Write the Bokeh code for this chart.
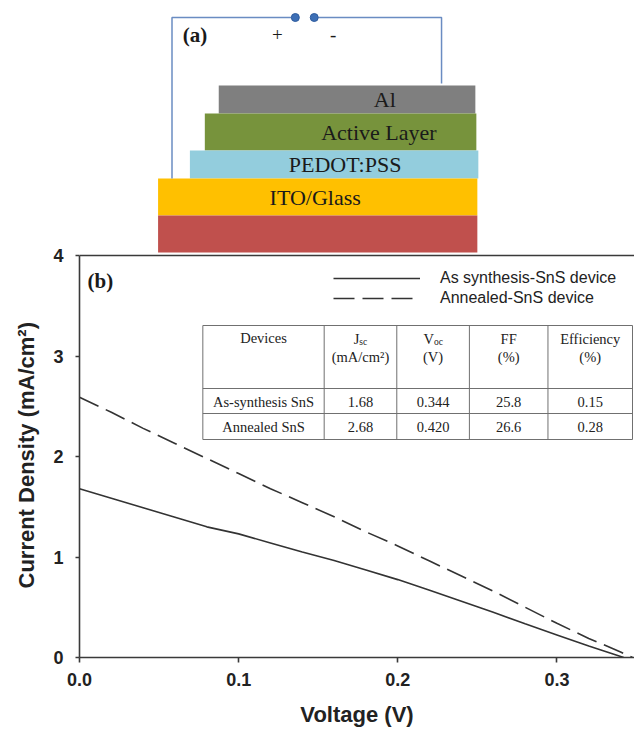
from bokeh.plotting import figure
from bokeh.models import Range1d, FixedTicker, PrintfTickFormatter, Span, Legend, LegendItem, Title
from bokeh.embed import file_html
from bokeh.resources import INLINE
from bokeh.core.properties import value

# ---------------- data ----------------
v_as = [0.00, 0.02, 0.04, 0.06, 0.08, 0.10, 0.12, 0.14, 0.16, 0.18,
        0.20, 0.22, 0.24, 0.26, 0.28, 0.30, 0.32, 0.342]
j_as = [1.68, 1.585, 1.49, 1.395, 1.30, 1.23, 1.14, 1.05, 0.965, 0.87,
        0.775, 0.67, 0.56, 0.45, 0.335, 0.225, 0.115, 0.0]

v_an = [0.00, 0.02, 0.04, 0.06, 0.08, 0.10, 0.12, 0.14, 0.16, 0.18,
        0.20, 0.22, 0.24, 0.26, 0.28, 0.30, 0.32, 0.34, 0.3475]
j_an = [2.59, 2.44, 2.28, 2.13, 1.98, 1.83, 1.68, 1.54, 1.40, 1.25,
        1.11, 0.96, 0.81, 0.66, 0.50, 0.34, 0.19, 0.055, 0.0]

series_names = ["As synthesis-SnS device", "Annealed-SnS device"]
x_ticks = [0.0, 0.1, 0.2, 0.3]
y_ticks = [0, 1, 2, 3, 4]

table_devices = ["As-synthesis SnS", "Annealed SnS"]
table_jsc = ["1.68", "2.68"]
table_voc = ["0.344", "0.420"]
table_ff = ["25.8", "26.6"]
table_eff = ["0.15", "0.28"]

layer_names = ["Al", "Active Layer", "PEDOT:PSS", "ITO/Glass", ""]
layer_colors = ["#7f7f7f", "#77933c", "#93cddd", "#ffc000", "#c0504d"]

SERIF = value("Liberation Serif")
SANS = "Liberation Sans"

# ---------------- layout constants (pixels) ----------------
W, H = 634, 730
FRAME_L = 76           # left edge of J-V frame
FRAME_B = 657          # pixel row of J = 0
PX_PER_V = 1600.0
PX_PER_J = 100.5
X_END = (W - FRAME_L) / PX_PER_V
Y_END = FRAME_B / PX_PER_J          # frame runs to the top of the canvas (schematic lives above J = 4)


def dx(px):
    return (px - FRAME_L) / PX_PER_V


def dy(py):
    return (FRAME_B - py) / PX_PER_J


p = figure(width=W, height=H, x_range=Range1d(0, X_END), y_range=Range1d(0, Y_END),
           toolbar_location=None, output_backend="svg",
           min_border_left=FRAME_L, min_border_right=0, min_border_top=0,
           min_border_bottom=H - FRAME_B)
p.outline_line_color = None
p.grid.visible = False

# ---------------- (a) device schematic ----------------
lay_left = [216, 202, 187, 155, 155]
lay_right = [474, 475, 477, 476, 476]
lay_top = [85, 113, 150, 178, 215]
lay_bottom = [113, 150, 178, 215, 252]
p.quad(left=[dx(v) for v in lay_left], right=[dx(v) for v in lay_right],
       top=[dy(v) for v in lay_top], bottom=[dy(v) for v in lay_bottom],
       fill_color=layer_colors, line_color=None)
lab_x = [383, 377, 343, 313]
lab_y = [99, 132, 164, 197]
p.text(x=[dx(v) for v in lab_x], y=[dy(v) for v in lab_y], text=layer_names[:4],
       text_font=SERIF, text_font_size="22px", text_align="center", text_baseline="middle",
       text_color="#1a1a1a")

wire = "#6a8cc2"
p.line(x=[dx(169), dx(169), dx(289)], y=[dy(178), dy(17), dy(17)], line_color=wire, line_width=1.5)
p.line(x=[dx(316), dx(440), dx(440)], y=[dy(17), dy(17), dy(83)], line_color=wire, line_width=1.5)
p.scatter(x=[dx(293), dx(312)], y=[dy(17), dy(17)], size=8, fill_color="#3d6fb6", line_color="#2f5c9e")
p.text(x=[dx(192)], y=[dy(34)], text=["(a)"], text_font=SERIF, text_font_style="bold",
       text_font_size="21px", text_align="center", text_baseline="middle", text_color="#1a1a1a")
p.text(x=[dx(275), dx(331)], y=[dy(34), dy(34)], text=["+", "-"], text_font=SERIF,
       text_font_size="19px", text_align="center", text_baseline="middle", text_color="#1a1a1a")

# ---------------- (b) J-V curves ----------------
ink = "#333333"
r1 = p.line(v_as, j_as, line_color=ink, line_width=1.6)
r2 = p.line(v_an, j_an, line_color=ink, line_width=1.6, line_dash="21 8")

p.add_layout(Span(location=4, dimension="width", line_color="#3a3a3a", line_width=1.6))

p.xaxis.ticker = FixedTicker(ticks=x_ticks)
p.xaxis.formatter = PrintfTickFormatter(format="%.1f")
p.yaxis.ticker = FixedTicker(ticks=y_ticks)
p.yaxis.bounds = (0, 4)
p.xaxis.axis_label = "Voltage (V)"
p.axis.axis_label_text_font = SANS
p.axis.axis_label_text_font_style = "bold"
p.axis.axis_label_text_font_size = "22px"
p.axis.axis_label_text_color = "#222222"
p.axis.major_label_text_font = SANS
p.axis.major_label_text_font_style = "bold"
p.axis.major_label_text_font_size = "18px"
p.axis.major_label_text_color = "#222222"
p.axis.major_tick_in = 0
p.xaxis.major_tick_out = 5
p.yaxis.major_tick_out = 4
p.axis.minor_tick_line_color = None
p.axis.axis_line_width = 1.6
p.axis.axis_line_color = "#3a3a3a"
p.axis.major_tick_line_color = "#3a3a3a"
p.axis.major_tick_line_width = 1.6
p.xaxis.major_label_standoff = 10
p.yaxis.major_label_standoff = 12
p.xaxis.axis_label_standoff = 13

# y-axis title as a side title, starting near the bottom of the J = 0..4 span
p.add_layout(Title(text="Current Density (mA/cm²)", align="left", offset=69,
                   standoff=23, text_font=SANS, text_font_style="bold", text_font_size="22px",
                   text_color="#222222"), "left")

legend = Legend(items=[LegendItem(label=series_names[0], renderers=[r1]),
                       LegendItem(label=series_names[1], renderers=[r2])],
                location=(330 - FRAME_L, FRAME_B - 308), glyph_width=87, glyph_height=20,
                label_height=20, label_standoff=20, spacing=0, padding=0, margin=0,
                border_line_color=None, background_fill_alpha=0,
                label_text_font=SANS, label_text_font_size="16px", label_text_color="#222222")
p.add_layout(legend)

p.text(x=[dx(97)], y=[dy(280)], text=["(b)"], text_font=SERIF, text_font_style="bold",
       text_font_size="21px", text_align="center", text_baseline="middle", text_color="#1a1a1a")

# ---------------- inset table ----------------
col_edges = [200, 322, 395, 468, 547, 632]
row_edges = [325, 388, 413, 439]
tcol = "#707070"
p.quad(left=[dx(col_edges[0])], right=[dx(col_edges[-1])], top=[dy(row_edges[0])],
       bottom=[dy(row_edges[-1])], fill_color="white", line_color=None)
p.segment(x0=[dx(col_edges[0])] * len(row_edges), x1=[dx(col_edges[-1])] * len(row_edges),
          y0=[dy(r) for r in row_edges], y1=[dy(r) for r in row_edges],
          line_color=tcol, line_width=1)
p.segment(x0=[dx(c) for c in col_edges], x1=[dx(c) for c in col_edges],
          y0=[dy(row_edges[0])] * len(col_edges), y1=[dy(row_edges[-1])] * len(col_edges),
          line_color=tcol, line_width=1)

centers = [(col_edges[i] + col_edges[i + 1]) / 2 for i in range(5)]
tstyle = dict(text_font=SERIF, text_font_size="14.5px", text_align="center",
              text_baseline="middle", text_color="#222222")
p.text(x=[dx(centers[0]), dx(centers[3]), dx(centers[4])], y=[dy(337), dy(338), dy(338)],
       text=["Devices", "FF", "Efficiency"], **tstyle)
p.text(x=[dx(c) for c in centers[1:]], y=[dy(356)] * 4,
       text=["(mA/cm²)", "(V)", "(%)", "(%)"], **tstyle)
sub_main = dict(text_font=SERIF, text_font_size="14.5px", text_align="right",
                text_baseline="middle", text_color="#222222")
sub_small = dict(text_font=SERIF, text_font_size="9.5px", text_align="left",
                 text_baseline="middle", text_color="#222222")
p.text(x=[dx(centers[1] - 1.2), dx(centers[2] + 0.8)], y=[dy(338)] * 2, text=["J", "V"], **sub_main)
p.text(x=[dx(centers[1] - 1.2), dx(centers[2] + 0.8)], y=[dy(341)] * 2, text=["sc", "oc"], **sub_small)
row_y = [401, 426]
for i in range(2):
    p.text(x=[dx(c) for c in centers], y=[dy(row_y[i])] * 5,
           text=[table_devices[i], table_jsc[i], table_voc[i], table_ff[i], table_eff[i]], **tstyle)

open("out.html", "w").write(file_html(p, INLINE))
